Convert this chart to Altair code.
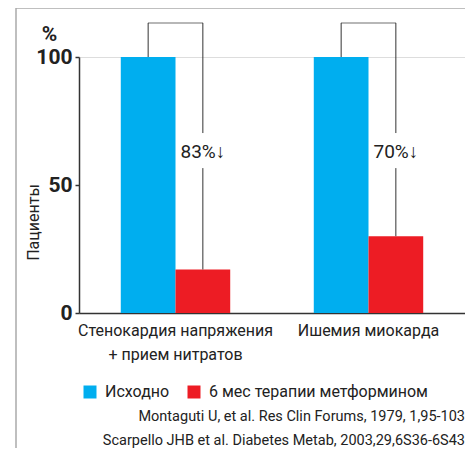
import altair as alt
import pandas as pd

# ---- data ----
categories = ["Стенокардия напряжения\n+ прием нитратов", "Ишемия миокарда"]
series = ["Исходно", "6 мес терапии метформином"]
baseline_vals = [100, 100]
after_vals = [17, 30]
reduction_labels = ["83%↓", "70%↓"]
sources = [
    "Montaguti U, et al. Res Clin Forums, 1979, 1,95-103",
    "Scarpello JHB et al. Diabetes Metab, 2003,29,6S36-6S43",
]
colors = ["#00AEEF", "#ED1C24"]

# layout constants (value units of the y scale)
TOP = 113.3
GAP_HI = 70.3
GAP_LO = 56.6
GAP_MID = 63.0

FONT = "Roboto, 'Liberation Sans', sans-serif"
INK = "#222222"
AX = "#333333"

W, H = 386, 256

bars = pd.DataFrame(
    [{"category": c, "series": series[0], "value": b} for c, b in zip(categories, baseline_vals)]
    + [{"category": c, "series": series[1], "value": a} for c, a in zip(categories, after_vals)]
)

segs = []
for c, b, a in zip(categories, baseline_vals, after_vals):
    segs.append({"category": c, "series": series[0], "value": b, "y2": TOP})
    segs.append({"category": c, "series": series[1], "value": TOP, "y2": GAP_HI})
    segs.append({"category": c, "series": series[1], "value": GAP_LO, "y2": a})
segs = pd.DataFrame(segs)

tops = pd.DataFrame({"category": categories, "value": [TOP] * len(categories)})
labels = pd.DataFrame(
    {"category": categories, "series": [series[1]] * len(categories),
     "label": reduction_labels, "value": [GAP_MID] * len(categories)}
)

xenc = alt.X(
    "category:N", sort=categories,
    scale=alt.Scale(paddingInner=0, paddingOuter=0),
    axis=alt.Axis(
        title=None, labelAngle=0, labelFontSize=16, labelFont=FONT, labelColor=INK,
        labelExpr="split(datum.label, '\\n')", labelLineHeight=24, labelPadding=9,
        ticks=False, domainColor=AX, domainWidth=1.5, labelLimit=300,
    ),
)
xoff = alt.XOffset("series:N", sort=series,
                   scale=alt.Scale(paddingInner=0, paddingOuter=0.7636))
yscale = alt.Scale(domain=[0, 100], nice=False)

bar_layer = alt.Chart(bars).mark_bar().encode(
    x=xenc,
    xOffset=xoff,
    y=alt.Y(
        "value:Q", scale=yscale,
        axis=alt.Axis(
            values=[0, 50, 100], title="Пациенты", titleFont=FONT, titleFontSize=16,
            titleFontWeight="normal", titleColor=INK, titleX=-46, titleY=165,
            titleAlign="center", titleBaseline="middle", titleAngle=-90,
            labelFont=FONT, labelFontSize=21, labelFontWeight="bold", labelColor=INK,
            labelPadding=3, tickSize=4, tickColor=AX, tickWidth=1.5,
            domainColor=AX, domainWidth=1.5, grid=False,
        ),
    ),
    color=alt.Color(
        "series:N", sort=series, scale=alt.Scale(domain=series, range=colors),
        legend=alt.Legend(
            title=None, orient="none", legendX=3, legendY=327, direction="horizontal",
            symbolType="square", symbolSize=169, symbolStrokeWidth=0,
            labelFont=FONT, labelFontSize=16, labelColor=INK, labelOffset=7,
            columnPadding=16, padding=0, labelLimit=320,
        ),
    ),
)

seg_layer = alt.Chart(segs).mark_rule(color=AX, strokeWidth=1).encode(
    x=alt.X("category:N", sort=categories), xOffset=alt.XOffset("series:N", sort=series),
    y=alt.Y("value:Q", scale=yscale), y2="y2:Q",
)

top_layer = alt.Chart(tops).mark_tick(color=AX, thickness=1, size=55).encode(
    x=alt.X("category:N", sort=categories), y=alt.Y("value:Q", scale=yscale),
)

lab_layer = alt.Chart(labels).mark_text(
    font=FONT, fontSize=19, color=INK, baseline="middle", align="center"
).encode(
    x=alt.X("category:N", sort=categories), xOffset=alt.XOffset("series:N", sort=series),
    y=alt.Y("value:Q", scale=yscale), text="label:N",
)

pct = alt.Chart(pd.DataFrame({"t": ["%"]})).mark_text(
    font=FONT, fontSize=21, fontWeight="bold", color=INK, align="center", baseline="middle"
).encode(x=alt.value(-29.5), y=alt.value(-22), text="t:N")

src1 = alt.Chart(pd.DataFrame({"text": [sources[0]]})).mark_text(
    font=FONT, fontSize=14.5, color=INK, align="right", baseline="middle"
).encode(x=alt.value(W), y=alt.value(360), text="text:N")
src2 = alt.Chart(pd.DataFrame({"text": [sources[1]]})).mark_text(
    font=FONT, fontSize=14.5, color=INK, align="right", baseline="middle"
).encode(x=alt.value(W), y=alt.value(384), text="text:N")

frame_top = alt.Chart(pd.DataFrame({"k": [0]})).mark_rule(color="#aaaaaa", strokeWidth=1.5).encode(
    x=alt.value(-63), x2=alt.value(W + 20), y=alt.value(-49)
)
frame_left = alt.Chart(pd.DataFrame({"k": [0]})).mark_rule(color="#aaaaaa", strokeWidth=1.5).encode(
    x=alt.value(-63), y=alt.value(-49), y2=alt.value(H + 160)
)

chart = alt.layer(
    frame_top, frame_left, bar_layer, seg_layer, top_layer, lab_layer, pct, src1, src2
).properties(
    width=W, height=H,
    autosize=alt.AutoSizeParams(type="none"),
    padding={"left": 71, "top": 49, "right": 0, "bottom": 135},
).configure_view(stroke=None).configure(background="white")

chart.save("out.html", embed_options={"renderer": "svg", "actions": False})
